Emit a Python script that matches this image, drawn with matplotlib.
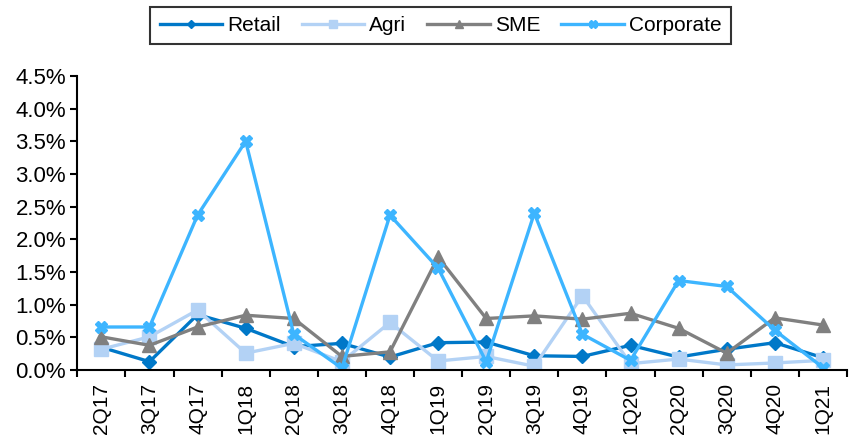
import matplotlib
matplotlib.use("Agg")
import matplotlib.pyplot as plt
from matplotlib.ticker import FuncFormatter, MultipleLocator, FixedLocator

plt.rcParams['font.family'] = ['Liberation Sans', 'DejaVu Sans']

quarters = ["2Q17", "3Q17", "4Q17", "1Q18", "2Q18", "3Q18", "4Q18", "1Q19",
            "2Q19", "3Q19", "4Q19", "1Q20", "2Q20", "3Q20", "4Q20", "1Q21"]

# slippage ratios, %
retail = [0.35, 0.13, 0.85, 0.64, 0.36, 0.41, 0.20, 0.42,
          0.43, 0.22, 0.21, 0.38, 0.20, 0.32, 0.42, 0.19]
agri = [0.32, 0.51, 0.92, 0.26, 0.41, 0.13, 0.73, 0.14,
        0.21, 0.06, 1.14, 0.10, 0.17, 0.08, 0.11, 0.15]
sme = [0.51, 0.38, 0.66, 0.84, 0.79, 0.21, 0.28, 1.73,
       0.79, 0.83, 0.78, 0.87, 0.64, 0.26, 0.80, 0.69]
corporate = [0.66, 0.66, 2.37, 3.50, 0.55, 0.03, 2.37, 1.56,
             0.13, 2.40, 0.55, 0.15, 1.37, 1.28, 0.61, 0.04]

fig = plt.figure(figsize=(8.59, 4.36), dpi=100)
ax = fig.add_axes([0.09, 0.151, 0.896, 0.675])

x = list(range(len(quarters)))
lw = 2.4
ax.plot(x, retail, color="#0078C8", lw=lw, marker="D", ms=7, label="Retail")
ax.plot(x, agri, color="#B3D2F5", lw=lw, marker="s", ms=10, label="Agri")
ax.plot(x, sme, color="#808080", lw=lw, marker="^", ms=10, label="SME")
ax.plot(x, corporate, color="#3DB5FF", lw=lw, marker="X", ms=9, label="Corporate")

ax.set_xlim(-0.5, len(quarters) - 0.5)
ax.set_ylim(0, 4.5)
ax.yaxis.set_major_locator(MultipleLocator(0.5))
ax.yaxis.set_major_formatter(FuncFormatter(lambda v, p: f"{v:.1f}%"))

ax.set_xticks(x)
ax.set_xticklabels(quarters, rotation=90)
ax.tick_params(axis="x", which="major", length=0, pad=9, labelsize=15)
ax.xaxis.set_minor_locator(FixedLocator([i - 0.5 for i in range(len(quarters) + 1)]))
ax.tick_params(axis="x", which="minor", length=5, width=1.5, direction="out")
ax.tick_params(axis="y", length=5, width=1.5, labelsize=16, pad=3)

for s in ("top", "right"):
    ax.spines[s].set_visible(False)
for s in ("left", "bottom"):
    ax.spines[s].set_linewidth(1.5)

leg = fig.legend(loc="upper center", bbox_to_anchor=(0.513, 0.985), ncol=4,
                 fontsize=15, frameon=True, fancybox=False, edgecolor="black",
                 handlelength=3.0, columnspacing=1.0, handletextpad=0.25,
                 borderpad=0.45, borderaxespad=0, markerscale=0.6)
leg.get_frame().set_linewidth(1.5)

fig.savefig("out.png", dpi=100)
